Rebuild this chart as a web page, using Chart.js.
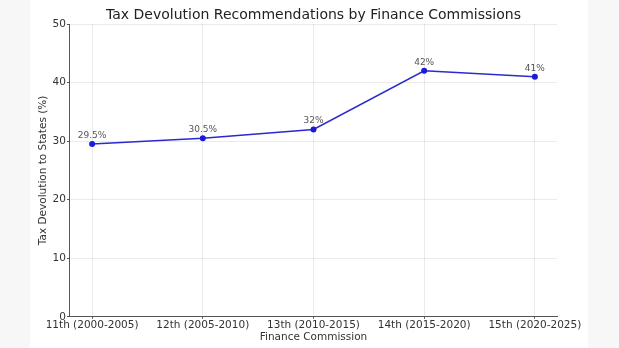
<!DOCTYPE html>
<html>
<head>
<meta charset="utf-8">
<script src="https://cdn.jsdelivr.net/npm/chart.js@4"></script>
<style>
  html, body { margin: 0; padding: 0; background: #f7f7f7; }
  #wrap { position: absolute; left: 30px; top: 0; width: 558px; height: 348px; background: #ffffff; }
</style>
</head>
<body>
<div id="wrap"><canvas id="devolutionChart" width="558" height="348"></canvas></div>
<script>
// Finance commission periods and recommended share to states (%)
var commissions = ["11th (2000-2005)", "12th (2005-2010)", "13th (2010-2015)", "14th (2015-2020)", "15th (2020-2025)"];
var devolution = [29.5, 30.5, 32, 42, 41];
var pointLabels = ["29.5%", "30.5%", "32%", "42%", "41%"];
var yTicks = [0, 10, 20, 30, 40, 50];
var chartTitle = "Tax Devolution Recommendations by Finance Commissions";

var points = devolution.map(function (v, i) {
  return { x: i, y: v };
});

// write the value above each point
var valueLabels = {
  id: "valueLabels",
  afterDatasetsDraw: function (chart) {
    var ctx = chart.ctx;
    var meta = chart.getDatasetMeta(0);
    ctx.save();
    ctx.font = "9px 'DejaVu Sans'";
    ctx.fillStyle = "#555";
    ctx.textAlign = "center";
    ctx.textBaseline = "bottom";
    meta.data.forEach(function (pt, i) {
      ctx.fillText(pointLabels[i], pt.x, pt.y - 4);
    });
    ctx.restore();
  },
};

// title centred over the plot area rather than the canvas
var axesTitle = {
  id: "axesTitle",
  afterDraw: function (chart) {
    var a = chart.chartArea;
    var ctx = chart.ctx;
    ctx.save();
    ctx.font = "14px 'DejaVu Sans'";
    ctx.fillStyle = "#222";
    ctx.textAlign = "center";
    ctx.textBaseline = "middle";
    ctx.fillText(chartTitle, (a.left + a.right) / 2, a.top - 9);
    ctx.restore();
  },
};

var ctx = document.getElementById("devolutionChart").getContext("2d");
var devolutionChart = new Chart(ctx, {
  type: "line",
  data: {
    datasets: [
      {
        label: "Tax Devolution",
        data: points,
        borderColor: "#2a2ad0",
        backgroundColor: "#1a1ad8",
        borderWidth: 1.5,
        pointRadius: 3,
        pointBorderWidth: 0,
        tension: 0,
      },
    ],
  },
  options: {
    responsive: false,
    animation: false,
    layout: { padding: { left: 7, right: 31, top: 24, bottom: 0 } },
    plugins: {
      legend: { display: false },
      tooltip: { enabled: false },
      title: { display: false },
    },
    scales: {
      x: {
        type: "linear",
        min: -0.2,
        max: 4.2,
        afterBuildTicks: function (axis) {
          axis.ticks = commissions.map(function (c, i) {
            return { value: i };
          });
        },
        ticks: {
          maxRotation: 0,
          autoSkip: false,
          color: "#333",
          padding: 0,
          font: { family: "DejaVu Sans", size: 10.5 },
          callback: function (v) {
            return commissions[v];
          },
        },
        grid: { color: "rgba(0,0,0,0.08)", tickColor: "#555", tickLength: 2 },
        border: { color: "#555", width: 1 },
        title: {
          display: true,
          text: "Finance Commission",
          color: "#333",
          font: { family: "DejaVu Sans", size: 10.5 },
          padding: { top: 0, bottom: 4 },
        },
      },
      y: {
        min: 0,
        max: 50,
        afterBuildTicks: function (axis) {
          axis.ticks = yTicks.map(function (v) {
            return { value: v };
          });
        },
        ticks: {
          color: "#333",
          padding: 1,
          font: { family: "DejaVu Sans", size: 10.5 },
        },
        grid: { color: "rgba(0,0,0,0.08)", tickColor: "#555", tickLength: 3 },
        border: { color: "#555", width: 1 },
        title: {
          display: true,
          text: "Tax Devolution to States (%)",
          color: "#333",
          font: { family: "DejaVu Sans", size: 10.5 },
          padding: { top: 0, bottom: 2 },
        },
      },
    },
  },
  plugins: [valueLabels, axesTitle],
});
</script>
</body>
</html>
